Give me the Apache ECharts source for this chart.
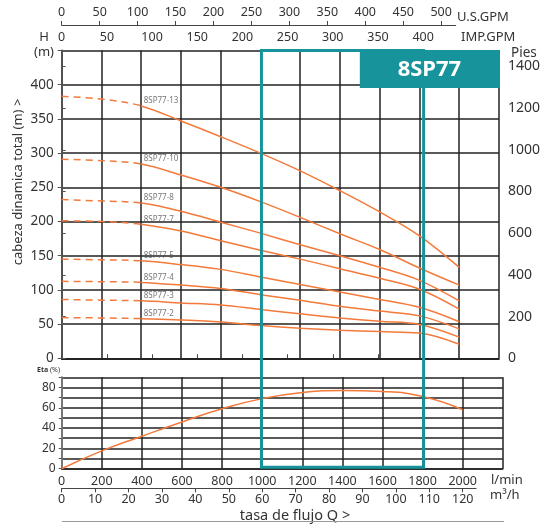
<!DOCTYPE html>
<html><head><meta charset="utf-8">
<script src="https://cdn.jsdelivr.net/npm/echarts@6/dist/echarts.min.js"></script>
<style>html,body{margin:0;padding:0;background:#fff}#c{width:543px;height:524px}</style>
</head><body><div id="c"></div>
<script>
// ---- data ----
const flowLpm = [0, 200, 400, 600, 800, 1000, 1200, 1400, 1600, 1800, 2000];
const models = ['8SP77-13', '8SP77-10', '8SP77-8', '8SP77-7', '8SP77-5', '8SP77-4', '8SP77-3', '8SP77-2'];
const head13 = [383, 379, 369, 347, 324, 300, 274, 245, 214, 179, 133];
const head10 = [291, 289, 284, 268, 250, 229, 206, 182, 159, 132, 107];
const head8  = [232, 230, 227, 215, 199, 183, 166, 150, 133, 114, 84];
const head7  = [201, 200, 196, 186, 172, 158, 145, 131, 117, 101, 72];
const head5  = [145, 144, 142.5, 137, 130, 119, 108, 97, 86, 74.5, 53.5];
const head4  = [112.5, 112, 111, 107, 102, 93, 85, 76, 69, 62, 43];
const head3  = [86, 85, 84, 81, 78, 71.5, 65, 59, 54, 49.5, 31];
const head2  = [59.5, 59, 58, 56, 53, 48, 44, 41, 39, 37, 20.5];
const heads = [head13, head10, head8, head7, head5, head4, head3, head2];
const efficiency = [0, 17.5, 32, 46, 59, 69, 75, 77, 76, 71, 58];
const dashedUntil = 400;             // l/min: curves dashed below this flow
const ratedRange = [1000, 1800];     // l/min: highlighted operating range
const headTicks = [0, 50, 100, 150, 200, 250, 300, 350, 400];
const feetTicks = [0, 200, 400, 600, 800, 1000, 1200, 1400];
const usGpmTicks = [0, 50, 100, 150, 200, 250, 300, 350, 400, 450, 500];
const impGpmTicks = [0, 50, 100, 150, 200, 250, 300, 350, 400];
const m3hTicks = [0, 10, 20, 30, 40, 50, 60, 70, 80, 90, 100, 110, 120];
const etaTicks = [0, 20, 40, 60, 80];

// unit conversions
const LPM_TO_USGPM = 0.264172, LPM_TO_IMPGPM = 0.219969, LPM_TO_M3H = 0.06, M_TO_FT = 1 / 0.3048;

const QMAX = 2200, HMAX = 450, ETAMAX = 90;
const ORANGE = '#f37a3a', TEAL = '#17949b', GRID = '#222', FONT = 'Noto Sans';
const L = 61.7, W = 441.1;

const chart = echarts.init(document.getElementById('c'), null, {renderer: 'canvas'});

const gridLine = {show: true, lineStyle: {color: GRID, width: 1.5}};
const lbl = (extra) => Object.assign({color: '#333', fontSize: 12.5, fontFamily: FONT, formatter: v => String(v)}, extra);

const series = [];
models.forEach((name, i) => {
  series.push({
    id: 'pump' + i, type: 'line', xAxisIndex: 0, yAxisIndex: 0, smooth: 0.35, symbol: 'none', silent: true,
    data: flowLpm.map((q, k) => [q, heads[i][k]]),
    lineStyle: {color: ORANGE, width: 1.5}
  });
});
// model name tags placed where each solid curve starts
series.push({
  type: 'scatter', xAxisIndex: 0, yAxisIndex: 0, silent: true, symbolSize: 1,
  itemStyle: {color: 'rgba(255,255,255,0)'},
  label: {show: true, formatter: '{b}', position: 'right', distance: 2, offset: [0, -5], color: '#555', fontSize: 8, fontFamily: FONT},
  data: models.map((name, i) => ({name: name, value: [dashedUntil, heads[i][flowLpm.indexOf(dashedUntil)]]}))
});
series.push({
  type: 'line', xAxisIndex: 2, yAxisIndex: 2, smooth: true, symbol: 'none', silent: true,
  data: flowLpm.map((q, k) => [q, efficiency[k]]),
  lineStyle: {color: ORANGE, width: 1.5}
});

const option = {
  animation: false,
  backgroundColor: '#fff',
  textStyle: {fontFamily: FONT},
  grid: [
    {left: L, top: 50.5, width: W, height: 307.8},
    {left: L, top: 377.3, width: W, height: 91.4},
    {left: L, top: 24, width: W * (519 / LPM_TO_USGPM) / QMAX, height: 1},
    {left: L, top: 487.3, width: W * (124 / LPM_TO_M3H) / QMAX, height: 1}
  ],
  xAxis: [
    {gridIndex: 0, type: 'value', min: 0, max: QMAX, interval: 200, position: 'bottom',
     axisLine: {show: true, lineStyle: {color: GRID, width: 1.5}}, axisTick: {show: false}, axisLabel: {show: false}, splitLine: gridLine},
    {gridIndex: 0, type: 'value', min: 0, max: QMAX * LPM_TO_IMPGPM, position: 'top',
     axisLine: {show: true, lineStyle: {color: GRID, width: 1.5}},
     axisTick: {show: true, length: 4, customValues: impGpmTicks, lineStyle: {color: '#444'}},
     axisLabel: lbl({customValues: impGpmTicks, margin: 7}), splitLine: {show: false}},
    {gridIndex: 1, type: 'value', min: 0, max: QMAX, interval: 200, position: 'bottom',
     axisLine: {show: true, lineStyle: {color: GRID, width: 1.5}}, axisTick: {show: false},
     axisLabel: lbl({margin: 6, formatter: v => v <= 2000 ? String(v) : ''}), splitLine: gridLine},
    {gridIndex: 2, type: 'value', min: 0, max: 519, position: 'top',
     axisLine: {show: true, lineStyle: {color: '#444', width: 1.2}},
     axisTick: {show: true, length: 4, customValues: usGpmTicks, lineStyle: {color: '#444'}},
     axisLabel: lbl({customValues: usGpmTicks, margin: 5}), splitLine: {show: false}},
    {gridIndex: 3, type: 'value', min: 0, max: 124, position: 'bottom',
     axisLine: {show: true, lineStyle: {color: '#444', width: 1.2}},
     axisTick: {show: true, length: 4, customValues: m3hTicks, lineStyle: {color: '#444'}},
     axisLabel: lbl({customValues: m3hTicks, margin: 5}), splitLine: {show: false}}
  ],
  yAxis: [
    {gridIndex: 0, type: 'value', min: 0, max: HMAX, interval: 50,
     axisLine: {show: true, lineStyle: {color: '#777', width: 2}},
     axisTick: {show: true, length: 4, lineStyle: {color: '#555'}},
     axisLabel: lbl({fontSize: 13.5, margin: 8, formatter: v => headTicks.includes(v) ? String(v) : ''}),
     splitLine: gridLine},
    {gridIndex: 0, type: 'value', min: 0, max: HMAX * M_TO_FT, position: 'right',
     axisLine: {show: true, lineStyle: {color: '#444', width: 1.5}},
     axisTick: {show: true, length: 4, customValues: feetTicks, lineStyle: {color: '#555'}},
     axisLabel: lbl({fontSize: 14, customValues: feetTicks, margin: 9}), splitLine: {show: false}},
    {gridIndex: 1, type: 'value', min: 0, max: ETAMAX, interval: 10,
     axisLine: {show: true, lineStyle: {color: '#777', width: 2}},
     axisTick: {show: true, length: 3, lineStyle: {color: '#555'}},
     axisLabel: lbl({fontSize: 12, margin: 6, formatter: v => etaTicks.includes(v) ? String(v) : ''}),
     splitLine: gridLine},
    {gridIndex: 2, type: 'value', min: 0, max: 1, show: false},
    {gridIndex: 3, type: 'value', min: 0, max: 1, show: false}
  ],
  series: series
};
chart.setOption(option);

// dashed start of each curve: dash pattern that runs over the on-screen length up to dashedUntil, then solid
const dashUpdates = models.map((name, i) => {
  let len = 0, prev = null;
  flowLpm.forEach((q, k) => {
    if (q > dashedUntil) return;
    const p = chart.convertToPixel({xAxisIndex: 0, yAxisIndex: 0}, [q, heads[i][k]]);
    if (prev) len += Math.hypot(p[0] - prev[0], p[1] - prev[1]);
    prev = p;
  });
  const pattern = [];
  let acc = 0;
  while (acc + 12 <= len) { pattern.push(7, 5); acc += 12; }
  const r = len - acc;
  if (r > 0) { const d = Math.min(r, 7); pattern.push(d, r - d); }
  pattern.push(5000, 0);
  return {id: 'pump' + i, lineStyle: {type: pattern}};
});

// overlay: operating range rectangle, model badge and axis captions
const tl = chart.convertToPixel({xAxisIndex: 0, yAxisIndex: 0}, [ratedRange[0], HMAX]);
const br = chart.convertToPixel({xAxisIndex: 2, yAxisIndex: 2}, [ratedRange[1], 0]);
const b1 = chart.convertToPixel({xAxisIndex: 0, yAxisIndex: 0}, [1500, HMAX]);
const b2 = chart.convertToPixel({xAxisIndex: 0, yAxisIndex: 0}, [QMAX, 395]);
const txt = (x, y, text, extra) => ({type: 'text', x: x, y: y, silent: true,
  style: Object.assign({text: text, fill: '#333', fontSize: 13, fontFamily: FONT, align: 'left', verticalAlign: 'middle'}, extra)});

chart.setOption({
  series: dashUpdates,
  graphic: [
    {type: 'rect', silent: true, z: 100,
     shape: {x: tl[0] + 1, y: tl[1], width: br[0] - tl[0], height: br[1] - tl[1] - 1.5},
     style: {fill: 'none', stroke: TEAL, lineWidth: 3}},
    {type: 'rect', silent: true, z: 101,
     shape: {x: b1[0], y: b1[1] - 0.5, width: b2[0] - b1[0] + 1, height: b2[1] - b1[1] + 0.5},
     style: {fill: TEAL}},
    Object.assign(txt((b1[0] + b2[0]) / 2, (b1[1] + b2[1]) / 2, '8SP77', {fill: '#fff', fontSize: 22, fontWeight: 'bold', align: 'center'}), {z: 102}),
    txt(457, 17, 'U.S.GPM', {fontSize: 13}),
    txt(461, 37, 'IMP.GPM', {fontSize: 13}),
    txt(44, 37, 'H', {fontSize: 13, align: 'center'}),
    txt(44, 52, '(m)', {fontSize: 13, align: 'center'}),
    txt(511, 53, 'Pies', {fontSize: 13.5}),
    {type: 'text', x: 18, y: 182, rotation: Math.PI / 2, silent: true,
     style: {text: 'cabeza dinamica total (m) >', fill: '#333', fontSize: 13, fontFamily: FONT, align: 'center', verticalAlign: 'middle'}},
    txt(37, 370, '{b|Eta} (%)', {fontSize: 7, rich: {b: {fontWeight: 'bold', fontSize: 7, fontFamily: FONT, fill: '#333'}}}),
    txt(491, 480, 'l/min', {fontSize: 13}),
    txt(490, 495, 'm³/h', {fontSize: 13}),
    txt(295, 516, 'tasa de flujo Q >', {fontSize: 14.5, align: 'center'}),
    {type: 'line', silent: true, shape: {x1: 62, y1: 521.5, x2: 504, y2: 521.5}, style: {stroke: '#999', lineWidth: 1}}
  ]
});
</script>
</body></html>
